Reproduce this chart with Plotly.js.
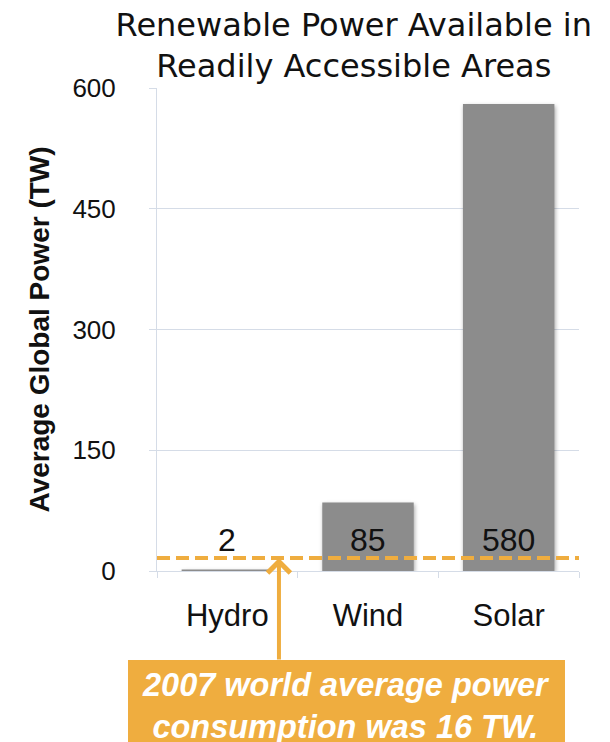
<!DOCTYPE html>
<html>
<head>
<meta charset="utf-8">
<script src="https://cdn.plot.ly/plotly-3.0.1.min.js"></script>
<style>
html,body{margin:0;padding:0;background:#fff;}
#chart{width:610px;height:742px;}
.trace.bars .point path{filter: drop-shadow(1px 2px 2px rgba(0,0,0,0.35));}
</style>
</head>
<body>
<div id="chart"></div>
<script>
// ---- data ----
var categories = ["Hydro", "Wind", "Solar"];
var powerTW = [2, 85, 580];
var consumptionTW = 16;
var consumptionYear = 2007;
var yTicks = [0, 150, 300, 450, 600];

var gridCol = "#D5DCE7";
var orange = "#EFAD3F";

var bar = {
  type: "bar",
  x: categories,
  y: powerTW,
  marker: {color: "#8C8C8C", line: {width: 0}},
  hoverinfo: "skip"
};

var labelAnns = categories.map(function (c, i) {
  return {
    x: c, y: 0, xref: "x", yref: "y",
    yshift: 31,
    text: String(powerTW[i]),
    showarrow: false,
    font: {family: "Liberation Sans, Arial, sans-serif", size: 32, color: "#111"}
  };
});

var layout = {
  width: 610, height: 742,
  margin: {l: 157, r: 31, t: 88, b: 171},
  paper_bgcolor: "#fff", plot_bgcolor: "#fff",
  showlegend: false,
  bargap: 0.35,
  title: {
    text: "Renewable Power Available in<br>Readily Accessible Areas",
    x: 0.58, xanchor: "center",
    y: 0.952, yanchor: "top",
    font: {family: "DejaVu Sans, Verdana, sans-serif", size: 32, color: "#111"}
  },
  xaxis: {
    type: "category",
    tickson: "boundaries",
    ticks: "outside", ticklen: 6, tickcolor: gridCol, tickwidth: 1,
    showline: true, linecolor: gridCol, linewidth: 1,
    showgrid: false,
    tickfont: {family: "Liberation Sans, Arial, sans-serif", size: 31, color: "#111"},
    ticklabelstandoff: 17,
    fixedrange: true
  },
  yaxis: {
    range: [0, 600],
    tickvals: yTicks,
    ticktext: yTicks.map(String),
    ticks: "outside", ticklen: 7, tickcolor: gridCol, tickwidth: 1,
    showline: true, linecolor: gridCol, linewidth: 1,
    showgrid: true, gridcolor: gridCol, gridwidth: 1,
    zeroline: false,
    tickfont: {family: "Liberation Sans, Arial, sans-serif", size: 26, color: "#111"},
    ticklabelstandoff: 28,
    title: {
      text: "<b>Average Global Power (TW)</b>",
      font: {family: "Liberation Sans, Arial, sans-serif", size: 28, color: "#111"},
      standoff: 14
    },
    fixedrange: true
  },
  shapes: [
    {
      type: "line", xref: "paper", yref: "y",
      x0: 0, x1: 1, y0: consumptionTW, y1: consumptionTW,
      line: {color: orange, width: 4, dash: "13px,6px"}
    },
    {
      type: "rect", xref: "paper", yref: "paper",
      x0: -0.0687, x1: 0.9668, y0: -0.40, y1: -0.1843,
      fillcolor: orange, line: {width: 0}, layer: "above"
    }
  ],
  annotations: labelAnns.concat([
    {
      x: 0.289, y: consumptionTW, xref: "paper", yref: "y",
      ax: 0, ay: 103, axref: "pixel", ayref: "pixel",
      showarrow: true, arrowhead: 4, arrowsize: 1.1, arrowwidth: 4,
      arrowcolor: orange, standoff: 0, text: ""
    },
    {
      x: 0.449, y: -0.2795, xref: "paper", yref: "paper",
      xanchor: "center", yanchor: "middle",
      showarrow: false,
      text: "<b><i>" + consumptionYear + " world average power<br>consumption was " + consumptionTW + " TW.</i></b>",
      font: {family: "Liberation Sans, Arial, sans-serif", size: 32.5, color: "#fff"}
    }
  ])
};

Plotly.newPlot("chart", [bar], layout, {displayModeBar: false, staticPlot: true});
</script>
</body>
</html>
